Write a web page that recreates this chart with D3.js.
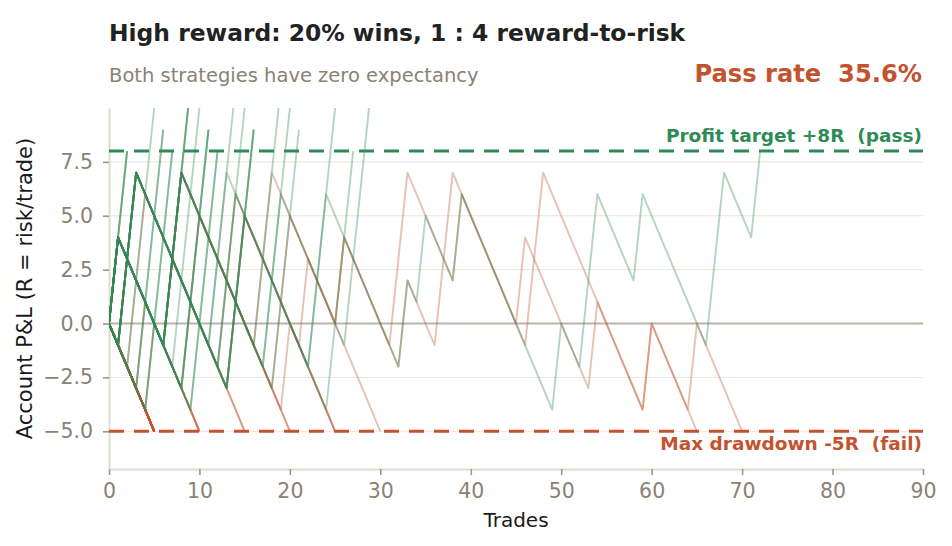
<!DOCTYPE html>
<html>
<head>
<meta charset="utf-8">
<script src="https://cdn.jsdelivr.net/npm/d3@7"></script>
<style>
  body { margin: 0; background: #fff; }
  text { font-family: "DejaVu Sans", sans-serif; }
</style>
</head>
<body>
<svg id="chart" width="952" height="546"></svg>
<script>
// trade outcomes per simulated account, run-length coded: W = win, L5 = five losses in a row
// [outcomes, how many sampled accounts took exactly that route]
const passRuns = [
  ["W2", 3],
  ["L2 W3", 1],
  ["L3 W3", 2],
  ["L4 W3", 2],
  ["W L5 W3", 3],
  ["W L6 W3", 1],
  ["W L7 W3", 3],
  ["W L8 W3", 2],
  ["L W2 L8 W3", 1],
  ["L W2 L9 W3", 1],
  ["L W2 L10 W3", 3],
  ["W L5 W2 L8 W3", 1],
  ["W L5 W2 L9 W3", 1],
  ["W L5 W2 L10 W3", 1],
  ["L W2 L9 W2 L8 W3", 1],
  ["L W2 L8 W2 L11 W3", 1],
  ["W L5 W2 L9 W2 L7 W3", 1],
  ["L W2 L10 W2 L7 W2 L8 W L W L3 W L10 W L2 W2 L4 W L7 W2 L3 W", 1]
];

const failRuns = [
  ["L5", 30],
  ["W L9", 1],
  ["L W L8", 1],
  ["L3 W L6", 1],
  ["L4 W L5", 1],
  ["L W2 L12", 1],
  ["L2 W2 L11", 1],
  ["W L5 W2 L12", 1],
  ["W L7 W2 L10", 1],
  ["L W2 L9 W2 L11", 1],
  ["L W2 L10 W2 L10", 1],
  ["W L5 W2 L11 W L5", 1],
  ["W L5 W2 L8 W2 L12", 1],
  ["L W2 L10 W2 L6 W L3 W L5 W2 L5 W L6 W L7 W L5 W L5", 1],
  ["W L5 W2 L10 W2 L5 W L6 W L3 W2 L8 W2 L11 W L4 W L5", 1]
];

const winR = 4;
const lossR = 1;
const profitTarget = 8;
const maxDrawdown = -5;
const passRate = 35.6;

const xTicks = [0, 10, 20, 30, 40, 50, 60, 70, 80, 90];
const yTicks = [-5, -2.5, 0, 2.5, 5, 7.5];

const GREEN = "#2e8b57";
const RED = "#c3532e";
const MUTED = "#8a8272";

const svg = d3.select("#chart");

const x = d3.scaleLinear().domain([0, 90]).range([109, 923]);
const y = d3.scaleLinear().domain([-6.75, 10]).range([469, 108]);

function walk(code) {
  let t = 0, v = 0;
  const pts = [[0, 0]];
  code.split(" ").forEach(tok => {
    const step = tok[0] === "W" ? winR : -lossR;
    const n = tok.length > 1 ? +tok.slice(1) : 1;
    for (let i = 0; i < n; i++) {
      t += 1;
      v += step;
      pts.push([t, v]);
    }
  });
  return pts;
}

svg.append("clipPath").attr("id", "plot-clip")
  .append("rect")
  .attr("x", x(0)).attr("y", y(10))
  .attr("width", x(90) - x(0)).attr("height", y(-6.75) - y(10));

// grid
svg.append("g")
  .selectAll("line")
  .data(yTicks.filter(d => d !== 0))
  .join("line")
  .attr("x1", x(0)).attr("x2", x(90))
  .attr("y1", d => y(d)).attr("y2", d => y(d))
  .attr("stroke", "#ebe6dc").attr("stroke-width", 1);

svg.append("line")
  .attr("x1", x(0)).attr("x2", x(90))
  .attr("y1", y(0)).attr("y2", y(0))
  .attr("stroke", "#bab4ab").attr("stroke-width", 2);

// axes
const xAxis = svg.append("g")
  .attr("transform", `translate(0,${y(-6.75)})`)
  .call(d3.axisBottom(x).tickValues(xTicks).tickSize(6).tickSizeOuter(0).tickPadding(8));

const yAxis = svg.append("g")
  .attr("transform", `translate(${x(0)},0)`)
  .call(d3.axisLeft(y).tickValues(yTicks).tickFormat(d3.format(".1f"))
    .tickSize(6).tickSizeOuter(0).tickPadding(10));

[xAxis, yAxis].forEach(ax => {
  ax.select(".domain").attr("stroke", "#e2dbcc").attr("stroke-width", 2);
  ax.selectAll(".tick line").attr("stroke", "#9d9586").attr("stroke-width", 1.6);
  ax.selectAll(".tick text")
    .attr("fill", MUTED)
    .style("font-size", "20.5px")
    .style("font-family", "DejaVu Sans, sans-serif");
});

// account paths, failed ones underneath
const line = d3.line().x(d => x(d[0])).y(d => y(d[1]));
const paths = [];
failRuns.forEach(([code, copies]) => {
  for (let i = 0; i < copies; i++) paths.push({ pts: walk(code), color: RED });
});
passRuns.forEach(([code, copies]) => {
  for (let i = 0; i < copies; i++) paths.push({ pts: walk(code), color: GREEN });
});

svg.append("g")
  .attr("clip-path", "url(#plot-clip)")
  .selectAll("path")
  .data(paths)
  .join("path")
  .attr("d", d => line(d.pts))
  .attr("fill", "none")
  .attr("stroke", d => d.color)
  .attr("stroke-opacity", 0.36)
  .attr("stroke-width", 1.9)
  .attr("stroke-linejoin", "round");

// thresholds
const limits = [
  { v: profitTarget, color: GREEN, label: `Profit target +${profitTarget}R  (pass)`, dy: -9 },
  { v: maxDrawdown, color: RED, label: `Max drawdown ${maxDrawdown}R  (fail)`, dy: 19 }
];

svg.append("g")
  .selectAll("line")
  .data(limits)
  .join("line")
  .attr("x1", x(0)).attr("x2", x(90))
  .attr("y1", d => y(d.v)).attr("y2", d => y(d.v))
  .attr("stroke", d => d.color)
  .attr("stroke-width", 3)
  .attr("stroke-dasharray", "15 10");

svg.append("g")
  .selectAll("text")
  .data(limits)
  .join("text")
  .attr("x", x(90) - 1)
  .attr("y", d => y(d.v) + d.dy)
  .attr("text-anchor", "end")
  .attr("fill", d => d.color)
  .style("font-size", "18.5px")
  .style("font-weight", "bold")
  .style("white-space", "pre")
  .text(d => d.label);

// titles
svg.append("text")
  .attr("x", 109).attr("y", 41)
  .attr("fill", "#222")
  .style("font-size", "23.4px").style("font-weight", "bold")
  .text("High reward: 20% wins, 1 : 4 reward-to-risk");

svg.append("text")
  .attr("x", 109).attr("y", 82)
  .attr("fill", MUTED)
  .style("font-size", "19.5px")
  .text("Both strategies have zero expectancy");

svg.append("text")
  .attr("x", 922).attr("y", 82)
  .attr("text-anchor", "end")
  .attr("fill", RED)
  .style("font-size", "24.2px").style("font-weight", "bold")
  .style("white-space", "pre")
  .text(`Pass rate  ${passRate.toFixed(1)}%`);

svg.append("text")
  .attr("x", (x(0) + x(90)) / 2).attr("y", 527)
  .attr("text-anchor", "middle")
  .attr("fill", "#1a1a1a")
  .style("font-size", "20px")
  .text("Trades");

svg.append("text")
  .attr("transform", `translate(32,${(y(10) + y(-6.75)) / 2}) rotate(-90)`)
  .attr("text-anchor", "middle")
  .attr("fill", "#1a1a1a")
  .style("font-size", "21px")
  .text("Account P&L (R = risk/trade)");
</script>
</body>
</html>
